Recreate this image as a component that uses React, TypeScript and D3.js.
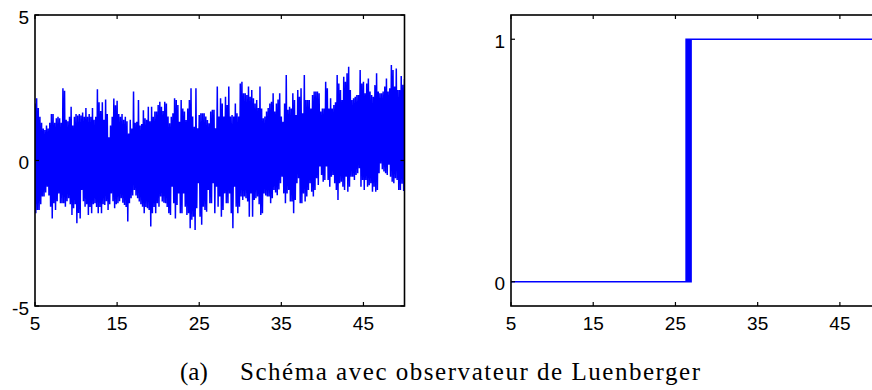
import React from "react";
import * as d3 from "d3";

// ---- data ----
const xTicks = [5, 15, 25, 35, 45];
const yTicksLeft = [-5, 0, 5];
const yTicksRight = [0, 1];
const caption = "Schéma avec observateur de Luenberger";
const captionTag = "(a)";

// left panel: dense noisy signal, sampled every 0.1 from t = 5;
// upper spikes (even samples) and lower spikes (odd samples) read off the picture
const sampleStart = 5;
const sampleStep = 0.1;
const upperPeaks = [
  1.96, 2.14, 1.8, 1.5, 1.3, 1.1, 1.05, 1.2, 1.1, 1.3,
  1.6, 1.6, 1.3, 1.45, 1.5, 1.45, 1.3, 2.48, 2.4, 1.4,
  1.35, 1.5, 1.85, 1.2, 1.5, 1.6, 1.55, 1.6, 1.55, 1.65,
  1.5, 1.8, 1.5, 1.6, 1.5, 1.8, 1.4, 1.5, 2.45, 2.0,
  1.7, 2.0, 1.4, 2.1, 1.6, 0.8, 1.2, 1.5, 2.13, 1.9,
  2.05, 1.6, 1.5, 1.6, 1.4, 1.5, 1.35, 0.93, 1.4, 1.1,
  2.37, 1.3, 1.33, 2.08, 1.2, 1.25, 1.73, 1.45, 1.4, 1.85,
  1.35, 1.85, 1.5,
  1.68, 1.68, 1.91, 2.02, 1.85, 1.7, 2.02, 1.96, 1.51, 1.28,
  1.5, 1.62, 2.14, 2.08, 1.91, 1.33, 2.08, 1.79, 1.68, 1.39,
  1.79, 2.08, 2.48, 1.51, 1.16, 2.48, 1.11, 1.56, 1.62, 1.62,
  1.62, 1.51, 1.39, 1.28, 1.68, 1.74, 1.74, 1.11, 2.54, 1.51,
  2.14, 1.96, 1.51, 2.19, 1.91, 2.54, 1.51, 1.56, 1.51, 1.96,
  1.62, 1.51, 2.65, 2.71, 2.31, 2.31, 2.25, 2.54, 2.19, 2.42,
  2.14, 1.96, 2.08, 1.8, 2.54, 1.79, 1.45, 1.51, 1.68, 1.8,
  1.96, 2.02, 2.31, 1.68, 1.96, 2.1, 2.31,
  1.51, 1.33, 1.96, 2.94, 1.74, 1.85, 1.79, 2.31, 2.08, 1.56,
  2.42, 2.19, 2.48, 1.62, 2.94, 2.08, 2.08, 2.08, 1.79, 2.25,
  2.37, 2.37, 2.37, 2.31, 1.68, 1.79, 1.79, 2.71, 2.48, 1.79,
  2.14, 1.79, 1.91, 2.0, 2.94, 2.65, 2.42, 2.08, 2.88, 2.71,
  3.0, 3.22, 2.42, 2.08, 2.14, 2.19, 2.25, 2.25, 3.11, 2.65,
  2.71, 2.31, 2.65, 2.82, 2.37, 2.25, 2.19, 2.59, 3.0, 2.37,
  2.31, 2.31, 2.37, 2.54, 2.82, 2.37, 2.48, 3.28, 3.11, 2.54,
  3.16, 2.42, 2.42, 2.9, 2.6, 2.8,
];
const lowerPeaks = [
  -1.81, -1.7, -1.7, -1.5, -1.24, -1.24, -1.1, -0.9, -1.2, -1.59,
  -1.99, -1.47, -1.7, -1.4, -1.13, -1.47, -1.47, -1.47, -1.59, -1.4,
  -1.3, -1.5, -1.87, -1.64, -1.5, -2.16, -1.8, -1.99, -1.01, -1.4,
  -1.59, -1.5, -1.87, -1.6, -1.81, -1.5, -1.47, -1.6, -1.81, -1.6,
  -1.81, -1.5, -1.53, -1.4, -1.7, -1.5, -1.13, -1.4, -1.64, -1.5,
  -1.47, -1.4, -1.3, -1.45, -1.53, -1.6, -2.1, -1.47, -1.3, -1.2,
  -1.01, -1.2, -1.3, -1.41, -1.5, -1.59, -1.81, -1.6, -1.64, -1.7,
  -2.27, -1.81, -1.6,
  -1.81, -1.47, -1.59, -1.24, -1.41, -1.45, -1.47, -1.6, -1.81, -1.87,
  -0.9, -1.47, -1.99, -1.53, -1.13, -1.81, -1.81, -1.13, -1.59, -1.87,
  -1.81, -2.33, -2.04, -1.93, -2.39, -1.64, -0.78, -1.93, -2.21, -1.59,
  -1.7, -1.76, -1.01, -1.47, -1.47, -0.78, -1.81, -0.9, -1.59, -1.24,
  -1.93, -1.7, -1.13, -1.47, -1.47, -1.13, -1.81, -2.33, -0.9, -1.59,
  -1.81, -1.59, -1.24, -1.36, -1.24, -1.3, -1.41, -1.93, -1.13, -1.93,
  -1.36, -1.3, -1.24, -1.5, -1.87, -1.81, -1.13, -1.2, -1.24, -1.24,
  -1.47, -1.3, -1.01, -1.1, -1.19, -1.0, -0.78,
  -0.56, -1.13, -1.47, -1.13, -1.01, -1.41, -1.41, -1.81, -1.36, -0.78,
  -0.61, -1.47, -1.47, -1.13, -1.41, -1.24, -1.01, -0.78, -1.07, -1.24,
  -1.01, -0.61, -0.84, -0.21, -0.5, -0.73, -0.67, -0.21, -0.67, -0.9,
  -0.56, -0.5, -0.78, -1.01, -1.36, -0.78, -0.73, -0.9, -1.01, -0.56,
  -1.07, -0.9, -0.56, -0.56, -0.67, -0.5, -0.44, -0.27, -0.9, -0.67,
  -1.01, -0.67, -0.9, -0.85, -0.78, -1.07, -0.9, -1.07, -1.01, -0.44,
  -0.1, -0.3, -0.38, -0.44, -0.5, -0.15, -0.56, -0.73, -0.78, -0.61,
  -0.67, -1.01, -1.01, -0.8, -1.05,
];

// right panel: switching signal 0 -> 1 (chattering near t = 26.3..27)
const stepTimes = [5, 26.3, 26.35, 26.4, 26.45, 26.5, 26.55, 26.6, 26.65, 26.7, 26.75, 26.8, 26.85, 26.9, 26.95, 50];
const stepValues = [0, 1, 0, 1, 0, 1, 0, 1, 0, 1, 0, 1, 0, 1, 1, 1];

// ---- layout ----
const W = 872;
const H = 390;
const TICK = 4;
const AXIS_FONT = "'Liberation Sans', Arial, Helvetica, sans-serif";
const SERIF = "'Liberation Serif', 'DejaVu Serif', serif";
const BLUE = "#0000ff";

const noise: [number, number][] = [];
for (let i = 0; i < upperPeaks.length + lowerPeaks.length; i++) {
  const v = i % 2 === 0 ? upperPeaks[i / 2] : lowerPeaks[(i - 1) / 2];
  if (v === undefined) break;
  noise.push([sampleStart + i * sampleStep, v]);
}
const steps: [number, number][] = stepTimes.map((t, i) => [t, stepValues[i]]);

type PanelProps = {
  id: string;
  x: d3.ScaleLinear<number, number>;
  y: d3.ScaleLinear<number, number>;
  yTicks: number[];
  path: string;
  lineWidth: number;
};

function Panel({ id, x, y, yTicks, path, lineWidth }: PanelProps) {
  const [x0, x1] = x.range();
  const [y1, y0] = y.range();
  return (
    <g>
      <defs>
        <clipPath id={id}>
          <rect x={x0} y={y0} width={x1 - x0} height={y1 - y0} />
        </clipPath>
      </defs>
      <path d={path} fill="none" stroke={BLUE} strokeWidth={lineWidth} strokeLinejoin="miter" clipPath={`url(#${id})`} />
      <rect x={x0} y={y0} width={x1 - x0} height={y1 - y0} fill="none" stroke="#000" strokeWidth={1.6} />
      {xTicks.map((t) => (
        <g key={"x" + t}>
          <line x1={x(t)} x2={x(t)} y1={y1} y2={y1 - TICK} stroke="#000" strokeWidth={1.2} />
          <line x1={x(t)} x2={x(t)} y1={y0} y2={y0 + TICK} stroke="#000" strokeWidth={1.2} />
          <text x={x(t)} y={y1 + 24} textAnchor="middle" fontFamily={AXIS_FONT} fontSize={19} fill="#000">
            {t}
          </text>
        </g>
      ))}
      {yTicks.map((t) => (
        <g key={"y" + t}>
          <line x1={x0} x2={x0 + TICK} y1={y(t)} y2={y(t)} stroke="#000" strokeWidth={1.2} />
          <line x1={x1} x2={x1 - TICK} y1={y(t)} y2={y(t)} stroke="#000" strokeWidth={1.2} />
          <text x={x0 - 6} y={y(t) + 8.5} textAnchor="end" fontFamily={AXIS_FONT} fontSize={19} fill="#000">
            {t}
          </text>
        </g>
      ))}
    </g>
  );
}

export default function App() {
  const xL = d3.scaleLinear().domain([5, 50]).range([35, 404.5]);
  const yL = d3.scaleLinear().domain([-5, 5]).range([306, 15]);
  const xR = d3.scaleLinear().domain([5, 50]).range([511, 881]);
  const yR = d3.scaleLinear().domain([-0.1, 1.1]).range([306, 15]);

  const noisePath =
    d3
      .line<[number, number]>()
      .x((d) => xL(d[0]))
      .y((d) => yL(d[1]))(noise) || "";
  const stepPath =
    d3
      .line<[number, number]>()
      .curve(d3.curveStepAfter)
      .x((d) => xR(d[0]))
      .y((d) => yR(d[1]))(steps) || "";

  return (
    <svg
      width={W}
      height={H}
      viewBox={`0 0 ${W} ${H}`}
      style={{ position: "absolute", left: 0, top: 0, background: "#fff" }}
    >
      <rect x={0} y={0} width={W} height={H} fill="#fff" />
      <Panel id="clipL" x={xL} y={yL} yTicks={yTicksLeft} path={noisePath} lineWidth={1.5} />
      <Panel id="clipR" x={xR} y={yR} yTicks={yTicksRight} path={stepPath} lineWidth={1.6} />
      <text x={180} y={380} fontFamily={SERIF} fontSize={25} fill="#000">
        {captionTag}
      </text>
      <text
        x={240}
        y={380}
        fontFamily={SERIF}
        fontSize={25}
        fill="#000"
        textLength={460}
        lengthAdjust="spacing"
      >
        {caption}
      </text>
    </svg>
  );
}
